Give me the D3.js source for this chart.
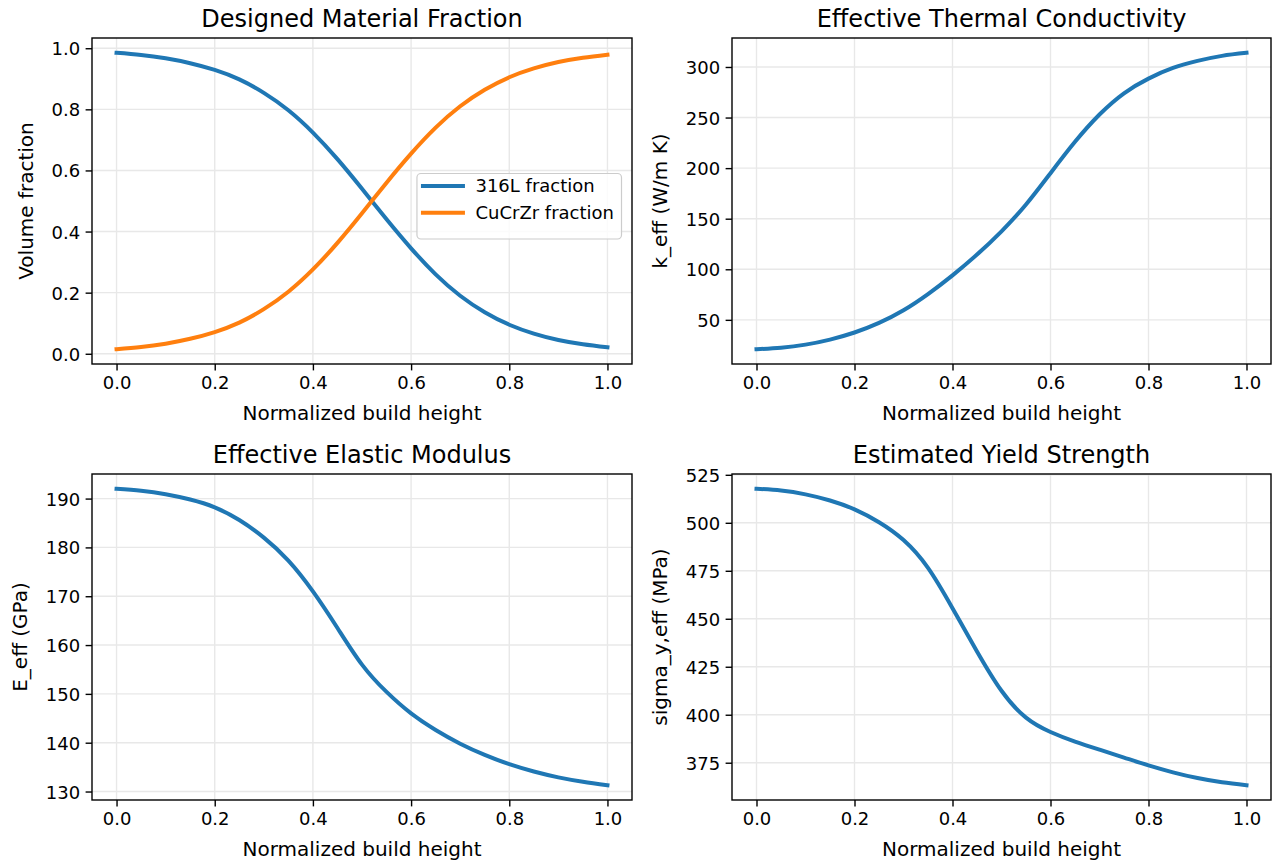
<!DOCTYPE html>
<html><head><meta charset="utf-8">
<script src="https://cdn.jsdelivr.net/npm/d3@7"></script>
<style>
body{margin:0;background:#fff}
svg{display:block}
text{font-family:"DejaVu Sans",sans-serif;fill:#000}
</style>
</head><body>
<svg id="c" width="1276" height="867"></svg>
<script>
// ---------------- data ----------------
const heights    = [0,0.05,0.10,0.15,0.20,0.25,0.30,0.35,0.40,0.45,0.50,0.55,0.60,0.65,0.70,0.75,0.80,0.85,0.90,0.95,1.00];
const frac316L   = [0.985,0.978,0.967,0.951,0.929,0.898,0.854,0.797,0.724,0.637,0.540,0.440,0.345,0.260,0.190,0.136,0.095,0.066,0.045,0.031,0.021];
const fracCuCrZr = [0.015,0.022,0.033,0.049,0.071,0.102,0.146,0.203,0.276,0.363,0.460,0.560,0.655,0.740,0.810,0.864,0.905,0.934,0.955,0.969,0.979];
const kEff       = [21,22.5,25.5,30.5,37.5,47,59.5,75.5,94,114.5,137.5,164,195,226,253,274,288.5,299,306,311,314];
const eEff       = [192.0,191.6,190.9,189.8,188.2,185.6,182.0,177.3,171.0,163.5,156.0,150.4,146.0,142.6,139.8,137.5,135.6,134.1,132.9,132.0,131.3];
const sigmaY     = [517.7,516.8,514.8,511.6,507.0,500.3,491.0,476.5,455.5,433.0,412.5,398.5,391.0,386.0,381.8,377.7,373.6,370.0,367.0,364.8,363.3];

const xTicks    = [0,0.2,0.4,0.6,0.8,1.0];
const fracTicks = [0,0.2,0.4,0.6,0.8,1.0];
const kTicks    = [50,100,150,200,250,300];
const eTicks    = [130,140,150,160,170,180,190];
const sTicks    = [375,400,425,450,475,500,525];

const titles  = ["Designed Material Fraction","Effective Thermal Conductivity","Effective Elastic Modulus","Estimated Yield Strength"];
const yLabels = ["Volume fraction","k_eff (W/m K)","E_eff (GPa)","sigma_y,eff (MPa)"];
const xLabel  = "Normalized build height";
const seriesNames = ["316L fraction","CuCrZr fraction"];

// ---------------- layout ----------------
const BLUE="#1f77b4", ORANGE="#ff7f0e";
const panels = [
  {left:92,  top:38,  w:540, h:326, series:[frac316L,fracCuCrZr], colors:[BLUE,ORANGE], yTicks:fracTicks, fmt:d3.format(".1f"), legend:true},
  {left:732, top:38,  w:539, h:326, series:[kEff],   colors:[BLUE], yTicks:kTicks, fmt:d3.format("d")},
  {left:92,  top:474, w:540, h:326, series:[eEff],   colors:[BLUE], yTicks:eTicks, fmt:d3.format("d")},
  {left:732, top:474, w:539, h:326, series:[sigmaY], colors:[BLUE], yTicks:sTicks, fmt:d3.format("d")}
];

const svg = d3.select("#c");
const TICK_FS=18, LABEL_FS=20, TITLE_FS=24, LEG_FS=18;

panels.forEach((p,i)=>{
  const g = svg.append("g");
  const all = p.series.flat();
  const mn = d3.min(all), mx = d3.max(all), pad = 0.05*(mx-mn);
  const x = d3.scaleLinear().domain([-0.05,1.05]).range([p.left,p.left+p.w]);
  const y = d3.scaleLinear().domain([mn-pad,mx+pad]).range([p.top+p.h,p.top]);
  const yT = p.yTicks.filter(t=>t>=y.domain()[0]-1e-9 && t<=y.domain()[1]+1e-9);

  // grid
  const grid = g.append("g").attr("stroke","#e8e8e8").attr("stroke-width",1.4);
  grid.selectAll("line.gx").data(xTicks).join("line")
    .attr("x1",d=>x(d)).attr("x2",d=>x(d)).attr("y1",p.top).attr("y2",p.top+p.h);
  grid.selectAll("line.gy").data(yT).join("line")
    .attr("y1",d=>y(d)).attr("y2",d=>y(d)).attr("x1",p.left).attr("x2",p.left+p.w);

  // lines
  const line = d3.line().x((d,j)=>x(heights[j])).y(d=>y(d)).curve(d3.curveNatural);
  p.series.forEach((s,k)=>{
    g.append("path").datum(s).attr("d",line).attr("fill","none")
      .attr("stroke",p.colors[k]).attr("stroke-width",4).attr("stroke-linecap","square").attr("stroke-linejoin","round");
  });

  // axes
  const xa = g.append("g").attr("transform",`translate(0,${p.top+p.h})`)
    .call(d3.axisBottom(x).tickValues(xTicks).tickFormat(d3.format(".1f")).tickSize(6.4).tickPadding(5.5));
  const ya = g.append("g").attr("transform",`translate(${p.left},0)`)
    .call(d3.axisLeft(y).tickValues(yT).tickFormat(p.fmt).tickSize(6.4).tickPadding(5.5));
  [xa,ya].forEach(a=>{
    a.select(".domain").remove();
    a.selectAll(".tick line").attr("stroke","#000").attr("stroke-width",1.4);
    a.selectAll(".tick text").attr("font-size",TICK_FS).attr("font-family","DejaVu Sans").attr("fill","#000");
  });
  ya.selectAll(".tick text").attr("dy","0.36em");
  xa.selectAll(".tick text").attr("dy","0.72em");

  // frame
  g.append("rect").attr("x",p.left).attr("y",p.top).attr("width",p.w).attr("height",p.h)
    .attr("fill","none").attr("stroke","#000").attr("stroke-width",1.4);

  // title
  g.append("text").attr("x",p.left+p.w/2).attr("y",p.top-11).attr("text-anchor","middle")
    .attr("font-size",TITLE_FS).text(titles[i]);
  // x label
  g.append("text").attr("x",p.left+p.w/2).attr("y",p.top+p.h+56).attr("text-anchor","middle")
    .attr("font-size",LABEL_FS).text(xLabel);
  // y label, placed left of the widest tick label
  let tw = 0;
  ya.selectAll(".tick text").each(function(){tw=Math.max(tw,this.getComputedTextLength());});
  const lx = p.left - 12 - tw - 18.5;
  g.append("text").attr("transform",`translate(${lx},${p.top+p.h/2}) rotate(-90)`)
    .attr("text-anchor","middle").attr("font-size",LABEL_FS).text(yLabels[i]);

  // legend
  if(p.legend){
    const lg = g.append("g");
    const bx = p.left+p.w-10.5, by = p.top+135.5;
    const items = lg.selectAll("g.it").data(seriesNames).join("g");
    items.append("text").attr("x",0).attr("y",(d,k)=>by+12.5+k*26.7).attr("dy","0.36em")
      .attr("font-size",LEG_FS).text(d=>d);
    let lw=0; items.selectAll("text").each(function(){lw=Math.max(lw,this.getComputedTextLength());});
    const boxW = lw + 66, x0 = bx - boxW;
    items.selectAll("text").attr("x",x0+58.5);
    lg.insert("rect","g").attr("x",x0).attr("y",by).attr("width",boxW).attr("height",65.5)
      .attr("rx",4).attr("fill","#fff").attr("fill-opacity",0.8).attr("stroke","#cccccc").attr("stroke-width",1.2);
    items.append("line").attr("x1",x0+6).attr("x2",x0+46).attr("y1",(d,k)=>by+12.5+k*26.7).attr("y2",(d,k)=>by+12.5+k*26.7)
      .attr("stroke",(d,k)=>p.colors[k]).attr("stroke-width",4).attr("stroke-linecap","square");
  }
});
</script>
</body></html>
